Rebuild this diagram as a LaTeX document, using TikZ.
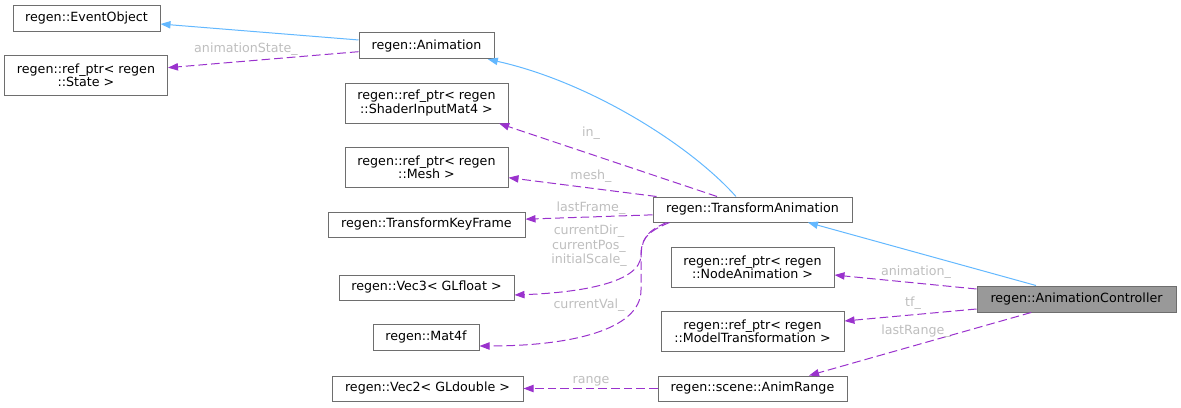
\documentclass[tikz,border=0pt]{standalone}
\usepackage{fontspec}
\setmainfont{DejaVu Sans}
\usetikzlibrary{arrows.meta}
\definecolor{boxgray}{RGB}{110,110,110}
\definecolor{inhcolor}{RGB}{99,184,255}
\definecolor{memcolor}{RGB}{154,50,205}
\definecolor{lblcolor}{RGB}{190,190,190}
\definecolor{ctrlfill}{RGB}{153,153,153}

\begin{document}
\begin{tikzpicture}[
  x=0.75pt, y=-0.75pt,
  cls/.style 2 args={
    draw=boxgray,
    fill=white,
    line width=0.75pt,
    minimum width=#1*0.75pt,
    minimum height=#2*0.75pt,
    inner sep=0pt,
    align=center,
    font=\fontsize{9.5}{10}\selectfont
  },
  lbl/.style={text=lblcolor, inner sep=0pt, align=center, font=\fontsize{9.5}{10.8}\selectfont},
  inherit/.style={draw=inhcolor, line width=0.75pt, -{Triangle[length=7.5pt,width=5.5pt]}},
  member/.style={draw=memcolor, line width=0.75pt, dash pattern=on 6.5pt off 3pt,
    -{Triangle[length=7.5pt,width=5.5pt]}}
]
\useasboundingbox (0,0) rectangle (1181,407);

% -------- Classes --------
\node[cls={147}{26}] (evobj) at (86.5,18) {regen::EventObject};
\node[cls={163}{40}] (state) at (86,75) {regen::ref\_ptr< regen\\::State >};
\node[cls={135}{26}] (anim) at (426.5,45.7) {regen::Animation};
\node[cls={163}{40}] (shader) at (426.5,103) {regen::ref\_ptr< regen\\::ShaderInputMat4 >};
\node[cls={163}{40}] (mesh) at (426.5,167) {regen::ref\_ptr< regen\\::Mesh >};
\node[cls={197}{25}] (keyframe) at (426.5,224.5) {regen::TransformKeyFrame};
\node[cls={175}{25}] (vec3) at (426.5,287.5) {regen::Vec3< GLfloat >};
\node[cls={106}{26}] (mat4) at (426,337) {regen::Mat4f};
\node[cls={191}{25}] (vec2) at (427.5,388.5) {regen::Vec2< GLdouble >};
\node[cls={199}{25}] (tanim) at (752.5,209.5) {regen::TransformAnimation};
\node[cls={163}{40}] (nodeanim) at (752.5,267) {regen::ref\_ptr< regen\\::NodeAnimation >};
\node[cls={183}{40}] (modeltf) at (752.5,331) {regen::ref\_ptr< regen\\::ModelTransformation >};
\node[cls={189}{25}] (animrange) at (752.5,388.5) {regen::scene::AnimRange};
\node[cls={199}{26}, fill=ctrlfill] (ctrl) at (1076.5,299) {regen::AnimationController};

% -------- Inheritance --------
\draw[inherit] ([yshift=4.3pt]anim.west) -- ([yshift=-4.5pt]evobj.east);
\draw[inherit] ([xshift=-12.4pt]tanim.north) .. controls (690,145) and (590,82) .. ([xshift=46pt]anim.south);
\draw[inherit] ([xshift=-30.4pt]ctrl.north) -- ([xshift=41.6pt]tanim.south);

% -------- Members --------
\draw[member] ([yshift=-4.5pt]anim.west) -- ([yshift=5.5pt]state.east);
\draw[member] ([xshift=-26.6pt]tanim.north) -- ([xshift=-7pt]shader.south east);
\draw[member] ([xshift=3pt]tanim.north west) -- ([yshift=-8pt]mesh.east);
\draw[member] ([yshift=-4pt]tanim.west) -- ([yshift=4pt]keyframe.east);
\draw[member] ([xshift=12.8pt]tanim.south west) .. controls (646,232) and (641,240) .. (641,255)
  .. controls (641,285) and (570,293) .. ([yshift=-5.6pt]vec3.east);
\draw[member] ([xshift=10.5pt]tanim.south west) .. controls (645,232) and (641,240) .. (641,260)
  -- (641,290) .. controls (641,330) and (570,346) .. ([yshift=-6.75pt]mat4.east);
\draw[member] (animrange.west) -- (vec2.east);
\draw[member] ([yshift=7.5pt]ctrl.west) -- ([yshift=-6pt]nodeanim.east);
\draw[member] ([yshift=-7.5pt]ctrl.west) -- ([yshift=7.5pt]modeltf.east);
\draw[member] ([xshift=-34pt]ctrl.south) -- ([xshift=42.4pt]animrange.north);

% -------- Member names --------
\node[lbl] (lstate) at (246,49) {animationState\_};
\node[lbl] (lin) at (591,133) {in\_};
\node[lbl] (lmesh) at (591,176) {mesh\_};
\node[lbl] (lframe) at (591,208) {lastFrame\_};
\node[lbl] (lvec3) at (589,246) {currentDir\_\\currentPos\_\\initialScale\_};
\node[lbl] (lmat4) at (589,305) {currentVal\_};
\node[lbl] (lrange) at (591,381) {range};
\node[lbl] (lnode) at (916,272) {animation\_};
\node[lbl] (ltf) at (913,303) {tf\_};
\node[lbl] (llast) at (916,331) {lastRange\_};

\end{tikzpicture}
\end{document}
